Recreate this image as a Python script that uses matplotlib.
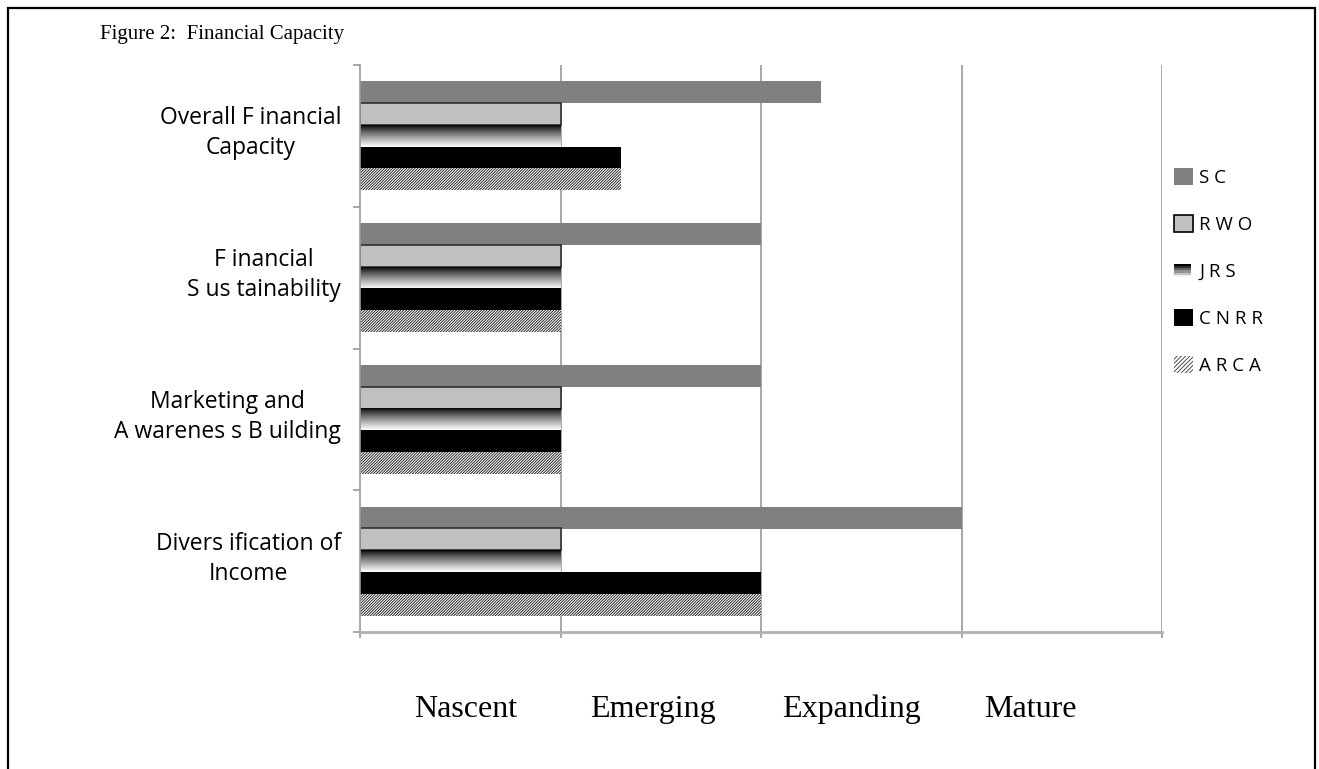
import numpy as np
import matplotlib
matplotlib.use("Agg")
import matplotlib.pyplot as plt
import matplotlib.transforms as mtransforms
from matplotlib.patches import Rectangle, Patch
from matplotlib.legend_handler import HandlerBase

# data (0 = Nascent ... 4 = Mature boundary)
categories = ["Overall F inancial\nCapacity", "F inancial\nS us tainability",
              "Marketing and\nA warenes s B uilding", "Divers ification of\nIncome"]
series = ["S C", "R W O", "J R S", "C N R R", "A R C A"]
sc = [2.3, 2.0, 2.0, 3.0]
rwo = [1.0, 1.0, 1.0, 1.0]
jrs = [1.0, 1.0, 1.0, 1.0]
cnrr = [1.3, 1.0, 1.0, 2.0]
arca = [1.3, 1.0, 1.0, 2.0]
stages = ["Nascent", "Emerging", "Expanding", "Mature"]

plt.rcParams['font.family'] = ['Open Sans', 'DejaVu Sans']
plt.rcParams['hatch.linewidth'] = 0.65

W, H = 1319, 769
fig = plt.figure(figsize=(W / 100, H / 100), dpi=100)
ax = fig.add_axes([360 / W, 1 - 632 / H, (1162 - 360) / W, (632 - 65) / H])

y = np.arange(len(categories))
h = 0.155
offs = [-0.307, -0.154, 0.0, 0.154, 0.307]

ax.barh(y + offs[0], sc, height=h, color='#808080', zorder=2)
ax.barh(y + offs[1], rwo, height=h, color='#c0c0c0', edgecolor='#303030', linewidth=1.2, zorder=2)
# JRS: black-to-white gradient
grad = np.linspace(0, 1, 64) ** 0.8
grad = grad.reshape(-1, 1)
for yi, v in zip(y, jrs):
    yc = yi + offs[2]
    ax.imshow(grad, cmap='gray', vmin=0, vmax=1, aspect='auto', origin='upper',
              extent=(0, v, yc + h / 2, yc - h / 2), zorder=2, interpolation='bilinear')
ax.barh(y + offs[3], cnrr, height=h, color='black', zorder=2)
ax.barh(y + offs[4], arca, height=h, color='white', edgecolor='#202020', hatch='////////////',
        linewidth=0, zorder=2)

ax.set_xlim(0, 4)
ax.set_ylim(3.5, -0.5)

# gridlines / spines
for xv in [1, 2, 3, 4]:
    ax.axvline(xv, color='#9a9a9a', linewidth=1.2, zorder=1)
for s in ['top', 'right']:
    ax.spines[s].set_visible(False)
ax.spines['left'].set_color('#9a9a9a')
ax.spines['left'].set_linewidth(1.2)
ax.spines['bottom'].set_color('#b0b0b0')
ax.spines['bottom'].set_linewidth(2)

ax.set_xticks([0, 1, 2, 3, 4])
ax.set_xticklabels([])
ax.tick_params(axis='x', direction='out', length=4, color='#9a9a9a', width=1.2)
ax.set_yticks([-0.5, 0.5, 1.5, 2.5, 3.5])
ax.set_yticklabels([])
ax.tick_params(axis='y', which='major', direction='out', length=5, color='#9a9a9a', width=1.2)

# category labels, centred block to the left of the axis
lab_trans = mtransforms.blended_transform_factory(ax.transAxes, ax.transData) + \
    mtransforms.ScaledTranslation(-0.19, 0.025, fig.dpi_scale_trans)
for yi, lab in zip(y, categories):
    ax.text(0, yi, lab, transform=lab_trans, fontsize=16.5, ha='right', va='center',
            ma='center', linespacing=1.33)


# legend with a gradient handle for JRS
class GradientHandler(HandlerBase):
    def create_artists(self, legend, orig_handle, xdescent, ydescent, width, height, fontsize, trans):
        n = 6
        arts = []
        for k in range(n):
            shade = str(min(1.0, k / (n - 1) * 0.95))
            r = Rectangle((-xdescent, -ydescent + height * (n - 1 - k) / n * 0.8 + height * 0.1),
                          width * 0.9, height * 0.8 / n, facecolor=shade, edgecolor='none', transform=trans)
            arts.append(r)
        return arts


handles = [Patch(facecolor='#808080'),
           Patch(facecolor='#c0c0c0', edgecolor='black', linewidth=1.2),
           Patch(facecolor='none', label='jrs'),
           Patch(facecolor='black'),
           Patch(facecolor='white', edgecolor='#404040', hatch='////////', linewidth=0)]
jrs_handle = handles[2]
fig.legend(handles, series, loc='upper left', bbox_to_anchor=(1174 / W, 1 - 168 / H),
           frameon=False, fontsize=13.5, handlelength=1.0, handleheight=1.0,
           labelspacing=1.5, handletextpad=0.35, borderpad=0, borderaxespad=0,
           handler_map={jrs_handle: GradientHandler()})

# title and stage labels
fig.text(100 / W, 1 - 34 / H, "Figure 2:  Financial Capacity", fontsize=15,
         family='Liberation Serif', va='center', ha='left')
for xpos, lab in zip([466, 653, 851, 1030], stages):
    fig.text(xpos / W, 1 - 717 / H, lab, fontsize=23, family='Liberation Serif',
             va='baseline', ha='center')

# outer frame
fig.patches.append(Rectangle((8 / W, -0.05), (1315 - 8) / W, 1.05 - 8 / H, transform=fig.transFigure,
                             fill=False, edgecolor='black', linewidth=1.6))

fig.savefig("out.png", dpi=100)
